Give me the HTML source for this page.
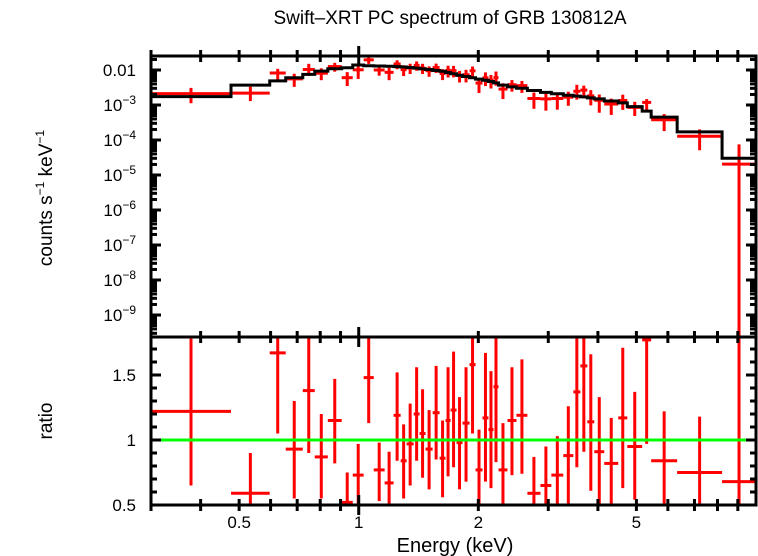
<!DOCTYPE html>
<html><head><meta charset="utf-8"><style>
html,body{margin:0;padding:0;background:#fff;}
svg{display:block;font-family:"Liberation Sans",sans-serif;}
</style></head><body>
<svg id="chart" width="758" height="556" viewBox="0 0 758 556" xmlns="http://www.w3.org/2000/svg">
<text x="450" y="24" font-size="19" text-anchor="middle">Swift–XRT PC spectrum of GRB 130812A</text>
<text transform="translate(52,198) rotate(-90)" font-size="19" text-anchor="middle">counts s<tspan font-size="12" dy="-8">−1</tspan><tspan dy="8"> keV</tspan><tspan font-size="12" dy="-8">−1</tspan></text>
<text transform="translate(52,421) rotate(-90)" font-size="19" text-anchor="middle">ratio</text>
<text x="455" y="552" font-size="20" text-anchor="middle">Energy (keV)</text>
<g id="marks"></g>
</svg>
<script>
// bin edges in keV (48 edges -> 47 bins)
const binEdges = [0.300,0.477,0.597,0.655,0.723,0.775,0.836,0.906,0.966,1.029,1.091,1.162,1.224,1.275,1.320,1.375,1.423,1.473,1.535,1.598,1.654,1.703,1.763,1.825,1.901,1.968,2.049,2.121,2.184,2.248,2.368,2.495,2.658,2.867,3.054,3.273,3.469,3.613,3.762,3.917,4.150,4.500,4.743,5.170,5.446,6.332,8.215,10.0];
// model (counts/s/keV) per bin
const modelValues = [0.00173,0.0037,0.0049,0.0060,0.0075,0.0093,0.0109,0.0116,0.0139,0.0132,0.0130,0.0128,0.0125,0.0122,0.0118,0.0113,0.0108,0.0103,0.0097,0.0092,0.0085,0.0078,0.0071,0.0065,0.0060,0.0055,0.0051,0.0047,0.0043,0.0037,0.0033,0.0030,0.0026,0.0023,0.0021,0.0019,0.0018,0.0017,0.0016,0.0015,0.0013,0.00115,0.0009,0.00067,0.00045,0.00017,0.00003];
// data/model ratio per bin
const ratioValues = [1.22,0.59,1.67,0.93,1.38,0.87,1.15,0.52,0.73,1.48,0.77,0.67,1.19,0.84,0.97,1.20,1.05,0.93,1.21,0.86,1.15,1.23,0.98,1.13,1.58,0.77,1.17,1.08,1.41,0.77,1.15,1.19,0.59,0.65,0.73,0.88,1.37,1.57,1.14,0.91,0.82,1.17,0.95,1.77,0.84,0.75,0.68];
const ratioLow = [0.65,0.35,1.05,0.55,0.90,0.55,0.82,0.30,0.40,1.13,0.53,0.40,0.84,0.55,0.65,0.84,0.71,0.62,0.85,0.56,0.72,0.79,0.62,0.68,1.05,0.40,0.68,0.63,0.83,0.40,0.73,0.74,0.30,0.30,0.35,0.50,0.79,0.91,0.61,0.40,0.40,0.63,0.54,0.97,0.40,0.30,0.0];
const ratioHigh = [1.78,0.90,2.2,1.30,2.0,1.20,1.47,0.75,0.97,2.1,0.98,0.91,1.52,1.12,1.28,1.56,1.39,1.23,1.57,1.15,1.56,1.68,1.33,1.56,2.1,1.08,1.67,1.53,2.1,1.13,1.56,1.62,0.87,0.95,1.03,1.26,2.1,2.1,1.66,1.33,1.17,1.71,1.37,2.2,1.22,1.18,2.5];
const yTopTicks = [-2,-3,-4,-5,-6,-7,-8,-9];
const ratioTicks = [0.5,1,1.5];
const xTickLabels = [0.5,1,2,5];

const NS="http://www.w3.org/2000/svg";
const g=document.getElementById('marks');
const L=151,R=756,T=56,M=337,B=505;
const xs=e=>L+(Math.log10(e)-Math.log10(0.3))/(1-Math.log10(0.3))*(R-L);
const yTop=v=>{const lv=v>0?Math.log10(v):-20;return Math.max(T,Math.min(M,70-(lv+2)*35));};
const yRat=r=>Math.max(M,Math.min(B,440-(r-1)*130));
function mk(tag,attrs,parent){const el=document.createElementNS(NS,tag);for(const k in attrs)el.setAttribute(k,attrs[k]);(parent||g).appendChild(el);return el;}
function line(x1,y1,x2,y2,col,w){return mk('line',{x1,y1,x2,y2,stroke:col,'stroke-width':w});}

let d='';
for(let i=0;i<modelValues.length;i++){const x1=xs(binEdges[i]),x2=xs(binEdges[i+1]),y=yTop(modelValues[i]);d+=(i===0?'M':'L')+x1+','+y+'L'+x2+','+y;}
for(let i=0;i<ratioValues.length;i++){
  const x1=xs(binEdges[i]),x2=xs(binEdges[i+1]),xc=xs(Math.sqrt(binEdges[i]*binEdges[i+1]));
  const m=modelValues[i];
  const rate=m*ratioValues[i];
  const a=line(x1,yTop(rate),x2,yTop(rate),'#f00',3);
  
  
  const b=line(xc,yTop(m*ratioHigh[i]),xc,yTop(m*ratioLow[i]),'#f00',3);
  
  
  const c=line(x1,yRat(ratioValues[i]),x2,yRat(ratioValues[i]),'#f00',3);
  
  
  const e=line(xc,yRat(ratioHigh[i]),xc,yRat(ratioLow[i]),'#f00',3);
  
  
}
const mp=mk('path',{d:d,fill:'none',stroke:'#000','stroke-width':3});


const gl=line(L,yRat(1),R,yRat(1),'#0f0',3);



const f1=mk('rect',{x:L,y:T,width:R-L,height:M-T,fill:'none',stroke:'#000','stroke-width':3});


const f2=mk('rect',{x:L,y:M,width:R-L,height:B-M,fill:'none',stroke:'#000','stroke-width':3});



const xt=[0.3,0.4,0.5,0.6,0.7,0.8,0.9,1,2,3,4,5,6,7,8,9];
xt.forEach(e=>{const x=xs(e);const big=(e===1);const len=big?10:6;
  [T,M,B].forEach(y0=>{line(x,y0,x,y0-len,'#000',3);line(x,y0,x,y0+len,'#000',3);});
});
xTickLabels.forEach(e=>{const t=mk('text',{x:xs(e),y:528,'font-size':17,'text-anchor':'middle'});t.textContent=String(e);
  
  });
for(let dec=-10;dec<=-1;dec++){for(let k=1;k<10;k++){const v=k*Math.pow(10,dec);const lv=Math.log10(v);if(lv<-9.657||lv>-1.63)continue;const y=70-(lv+2)*35;const len=k===1?10:6;line(L,y,L+len,y,'#000',3);line(R,y,R-len,y,'#000',3);}}
yTopTicks.forEach(p=>{const y=70-(p+2)*35;const t=mk('text',{x:136,y:y+6,'font-size':17,'text-anchor':'end'});
  if(p===-2){t.textContent='0.01';}else{t.textContent='10';const s=mk('tspan',{dy:-7,'font-size':12},t);s.textContent='−'+(-p);}
  
  });
for(let r=0.5;r<=1.81;r+=0.1){const y=yRat(r);const maj=Math.abs(r*2-Math.round(r*2))<1e-6;const len=maj?10:6;line(L,y,L+len,y,'#000',3);line(R,y,R-len,y,'#000',3);}
ratioTicks.forEach(r=>{const t=mk('text',{x:136,y:yRat(r)+6,'font-size':17,'text-anchor':'end'});t.textContent=String(r);
  
  });
</script>
</body></html>
